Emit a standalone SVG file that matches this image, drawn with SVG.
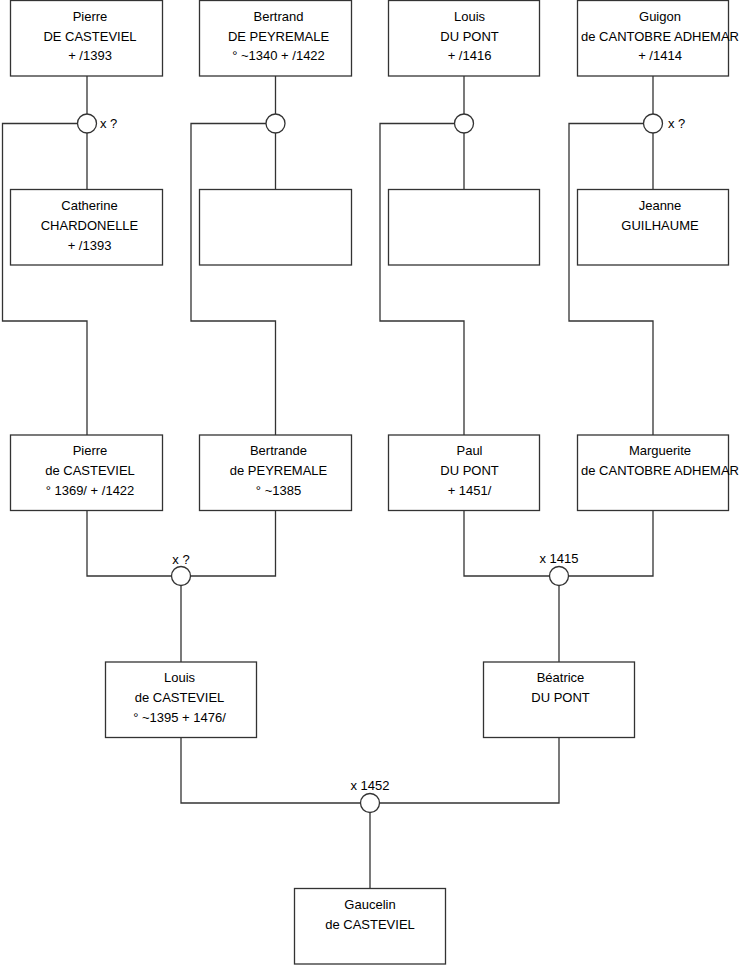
<svg xmlns="http://www.w3.org/2000/svg" width="740" height="975" viewBox="0 0 740 975">
<style>
.box{fill:#fff;stroke:#333;stroke-width:1.3}
.ln{fill:none;stroke:#333;stroke-width:1.3}
.ring{fill:#fff;stroke:#333;stroke-width:1.3}
text{font-family:"Liberation Sans",Arial,sans-serif;font-size:13px;fill:#000}
.c{text-anchor:middle}
</style>
<rect width="740" height="975" fill="#fff"/>
<g id="connectors">
<path class="ln" d="M87 76V114M87 133V189M77 123.5H2.5V321H87V435"/>
<path class="ln" d="M275.5 76V114M275.5 133V189M266 123.5H191V321H275.5V435"/>
<path class="ln" d="M464 76V114M464 133V189M454.5 123.5H380V321H464V435"/>
<path class="ln" d="M653 76V114M653 133V189M643.5 123.5H569V321H653V435"/>
<path class="ln" d="M87 510V576H275.5V510M181 576V662"/>
<path class="ln" d="M464 510V576H653V510M559 576V662"/>
<path class="ln" d="M181 737V803H559V737M370 803V889"/>
</g>
<g id="u1"><circle class="ring" cx="87" cy="123.5" r="9.5"/><text x="100" y="128">x ?</text></g>
<g id="u2"><circle class="ring" cx="275.5" cy="123.5" r="9.5"/></g>
<g id="u3"><circle class="ring" cx="464" cy="123.5" r="9.5"/></g>
<g id="u4"><circle class="ring" cx="653" cy="123.5" r="9.5"/><text x="668" y="128">x ?</text></g>
<g id="u5"><circle class="ring" cx="181" cy="576" r="9.5"/><text class="c" x="181" y="564">x ?</text></g>
<g id="u6"><circle class="ring" cx="559" cy="576" r="9.5"/><text class="c" x="559" y="563">x 1415</text></g>
<g id="u7"><circle class="ring" cx="370" cy="803" r="9.5"/><text class="c" x="370" y="790">x 1452</text></g>
<g id="n1"><rect class="box" x="10.5" y="0.5" width="152" height="75.5"/><text class="c" x="90" y="20.5">Pierre</text><text class="c" x="90" y="40.5">DE CASTEVIEL</text><text class="c" x="90" y="60">+ /1393</text></g>
<g id="n2"><rect class="box" x="199.5" y="0.5" width="152" height="75.5"/><text class="c" x="278.5" y="20.5">Bertrand</text><text class="c" x="278.5" y="40.5">DE PEYREMALE</text><text class="c" x="278.5" y="60">° ~1340 + /1422</text></g>
<g id="n3"><rect class="box" x="388.5" y="0.5" width="151" height="75.5"/><text class="c" x="469.5" y="20.5">Louis</text><text class="c" x="469.5" y="40.5">DU PONT</text><text class="c" x="469.5" y="60">+ /1416</text></g>
<g id="n4"><rect class="box" x="577.5" y="0.5" width="151" height="75.5"/><text class="c" x="660" y="20.5">Guigon</text><text class="c" x="660" y="40.5">de CANTOBRE ADHEMAR</text><text class="c" x="660" y="60">+ /1414</text></g>
<g id="n5"><rect class="box" x="10.5" y="189.5" width="152" height="75.5"/><text class="c" x="89.5" y="210">Catherine</text><text class="c" x="89.5" y="230">CHARDONELLE</text><text class="c" x="89.5" y="250">+ /1393</text></g>
<g id="n6"><rect class="box" x="199.5" y="189.5" width="152" height="75.5"/></g>
<g id="n7"><rect class="box" x="388.5" y="189.5" width="151" height="75.5"/></g>
<g id="n8"><rect class="box" x="577.5" y="189.5" width="151" height="75.5"/><text class="c" x="660" y="210">Jeanne</text><text class="c" x="660" y="230">GUILHAUME</text></g>
<g id="n9"><rect class="box" x="10.5" y="435" width="152" height="75.5"/><text class="c" x="90" y="455">Pierre</text><text class="c" x="90" y="475">de CASTEVIEL</text><text class="c" x="90" y="495">° 1369/ + /1422</text></g>
<g id="n10"><rect class="box" x="199.5" y="435" width="152" height="75.5"/><text class="c" x="278.5" y="455">Bertrande</text><text class="c" x="278.5" y="475">de PEYREMALE</text><text class="c" x="278.5" y="495">° ~1385</text></g>
<g id="n11"><rect class="box" x="388.5" y="435" width="151" height="75.5"/><text class="c" x="469.5" y="455">Paul</text><text class="c" x="469.5" y="475">DU PONT</text><text class="c" x="469.5" y="495">+ 1451/</text></g>
<g id="n12"><rect class="box" x="577.5" y="435" width="151" height="75.5"/><text class="c" x="660" y="455">Marguerite</text><text class="c" x="660" y="475">de CANTOBRE ADHEMAR</text></g>
<g id="n13"><rect class="box" x="105.5" y="662" width="151" height="75.5"/><text class="c" x="179.5" y="682">Louis</text><text class="c" x="179.5" y="702">de CASTEVIEL</text><text class="c" x="179.5" y="722">° ~1395 + 1476/</text></g>
<g id="n14"><rect class="box" x="483.5" y="662" width="151" height="75.5"/><text class="c" x="560.5" y="682">Béatrice</text><text class="c" x="560.5" y="702">DU PONT</text></g>
<g id="n15"><rect class="box" x="294.5" y="888.5" width="151" height="75.5"/><text class="c" x="370" y="909">Gaucelin</text><text class="c" x="370" y="929">de CASTEVIEL</text></g>
</svg>
